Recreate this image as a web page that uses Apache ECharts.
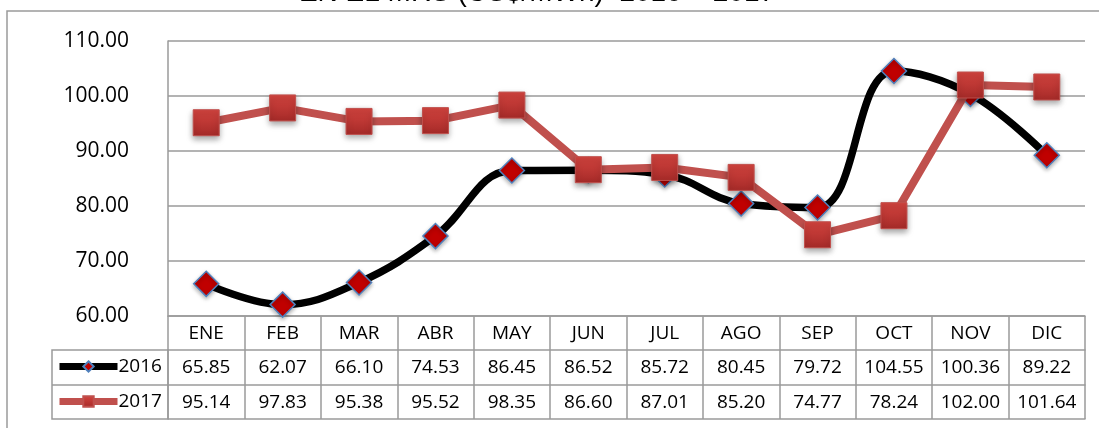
<!DOCTYPE html>
<html>
<head>
<meta charset="utf-8">
<script src="https://cdn.jsdelivr.net/npm/echarts@6/dist/echarts.min.js"></script>
<style>
  html, body { margin: 0; padding: 0; background: #fff; }
  #chart { width: 1099px; height: 428px; }
</style>
</head>
<body>
<div id="chart"></div>
<script>
// datos del gráfico
var meses = ['ENE', 'FEB', 'MAR', 'ABR', 'MAY', 'JUN', 'JUL', 'AGO', 'SEP', 'OCT', 'NOV', 'DIC']
var datos2016 = [65.85, 62.07, 66.10, 74.53, 86.45, 86.52, 85.72, 80.45, 79.72, 104.55, 100.36, 89.22]
var datos2017 = [95.14, 97.83, 95.38, 95.52, 98.35, 86.60, 87.01, 85.20, 74.77, 78.24, 102.00, 101.64]
var titulo = 'EN EL MRS (US$/MWh)  2016 – 2017'

var gris = '#9a9a9a'
var fuente = '"Open Sans", "Noto Sans", sans-serif'

var chart = echarts.init(document.getElementById('chart'))

// eje x que hace de fila de tabla
function filaTabla(offset, valores) {
  return {
    type: 'category',
    data: meses,
    position: 'bottom',
    offset: offset,
    axisLine: { show: true, lineStyle: { color: gris, width: 1.5 } },
    axisTick: { show: false },
    axisLabel: {
      show: !!valores,
      interval: 0,
      margin: 8,
      color: '#000',
      fontFamily: fuente,
      fontSize: 19,
      formatter: function (v, i) { return valores ? valores[i].toFixed(2) : '' }
    }
  }
}

chart.setOption({
  animation: false,
  grid: {
    left: 168,
    right: 14,
    top: 41,
    bottom: 112
  },
  graphic: [
    {
      type: 'rect',
      shape: { x: 7, y: 11, width: 1200, height: 500 },
      style: { fill: 'none', stroke: gris, lineWidth: 1.5 },
      z: -10
    },
    {
      type: 'text',
      x: 537,
      y: -7,
      style: {
        text: titulo,
        fill: '#000',
        font: '28px "Liberation Sans", Arial, sans-serif',
        textAlign: 'center',
        textVerticalAlign: 'middle'
      }
    },
    {
      type: 'rect',
      shape: { x: 52, y: 350, width: 116, height: 69 },
      style: { fill: 'none', stroke: gris, lineWidth: 1.5 }
    },
    {
      type: 'line',
      shape: { x1: 52, y1: 385, x2: 168, y2: 385 },
      style: { stroke: gris, lineWidth: 1.5 }
    }
  ],
  legend: {
    orient: 'vertical',
    left: 56,
    top: 357,
    itemWidth: 58,
    itemHeight: 13,
    itemGap: 16,
    padding: 0,
    lineStyle: { width: 7 },
    textStyle: { color: '#000', fontFamily: fuente, fontSize: 19, padding: [0, 0, 0, -4] },
    data: ['2016', '2017']
  },
  xAxis: [
    {
      type: 'category',
      data: meses,
      position: 'bottom',
      boundaryGap: true,
      axisLine: { show: true, lineStyle: { color: gris, width: 1.5 } },
      axisTick: { show: true, interval: 0, length: 103, lineStyle: { color: gris, width: 1.5 } },
      axisLabel: {
        interval: 0,
        margin: 8,
        color: '#000',
        fontFamily: fuente,
        fontSize: 19
      }
    },
    filaTabla(34, datos2016),
    filaTabla(69, datos2017),
    filaTabla(103, null)
  ],
  yAxis: {
    type: 'value',
    min: 60,
    max: 110,
    interval: 10,
    axisLine: { show: true, lineStyle: { color: gris, width: 1.5 } },
    axisTick: { show: false },
    splitLine: { lineStyle: { color: gris, width: 1.5 } },
    axisLabel: {
      margin: 39,
      color: '#000',
      fontFamily: fuente,
      fontSize: 21,
      formatter: function (v) { return v.toFixed(2) }
    }
  },
  series: [
    {
      name: '2016',
      type: 'line',
      data: datos2016,
      smooth: 0.4,
      symbol: 'diamond',
      symbolSize: 25,
      lineStyle: { color: '#000', width: 7.5 },
      itemStyle: {
        color: '#c00000',
        borderColor: '#4f81bd',
        borderWidth: 1.5,
        shadowBlur: 4,
        shadowColor: 'rgba(0,0,0,0.3)',
        shadowOffsetY: 2
      },
      z: 2
    },
    {
      name: '2017',
      type: 'line',
      data: datos2017,
      symbol: 'rect',
      symbolSize: 26,
      lineStyle: { color: '#c0504d', width: 8 },
      itemStyle: {
        color: new echarts.graphic.LinearGradient(0, 0, 0, 1, [
          { offset: 0, color: '#d4443f' },
          { offset: 1, color: '#a52a28' }
        ]),
        borderColor: '#c0504d',
        borderWidth: 1,
        shadowBlur: 6,
        shadowColor: 'rgba(0,0,0,0.35)',
        shadowOffsetY: 3
      },
      z: 3
    }
  ]
})
</script>
</body>
</html>
